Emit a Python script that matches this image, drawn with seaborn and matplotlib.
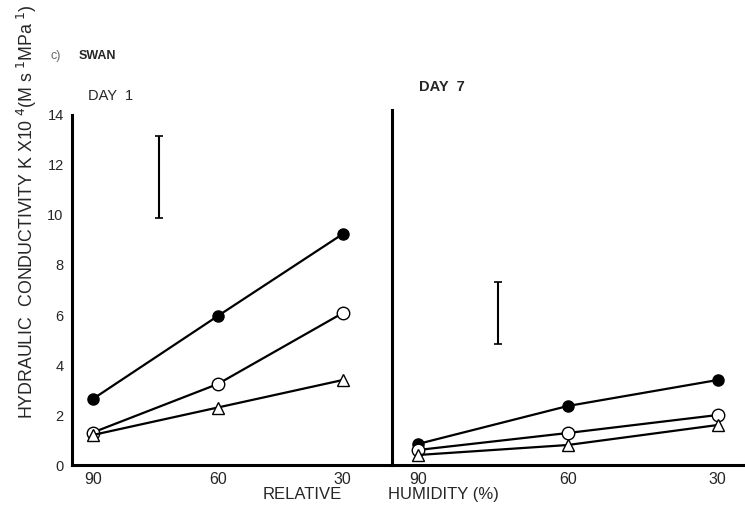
import pandas as pd
import seaborn as sns
import matplotlib.pyplot as plt

humidity = [90, 60, 30]

# Day 1 conductivity values (K x 10^4)
day1_filled = [2.64, 5.96, 9.24]
day1_open = [1.3, 3.24, 6.08]
day1_triangle = [1.2, 2.3, 3.4]

# Day 7 conductivity values
day7_filled = [0.84, 2.36, 3.4]
day7_open = [0.6, 1.28, 2.0]
day7_triangle = [0.4, 0.8, 1.6]

# LSD bars: x position, low, high
day1_bar = [74, 9.88, 13.16]
day7_bar = [74, 4.84, 7.32]

sns.set_style("white")
plt.rcParams['font.family'] = ['Liberation Sans', 'DejaVu Sans']

fig = plt.figure(figsize=(7.45, 5.14), dpi=100)
ax1 = fig.add_axes([0.0966, 0.0953, 0.4295, 0.681])
ax2 = fig.add_axes([0.526, 0.0953, 0.471, 0.69])

styles = {
    'filled': dict(marker='o', markerfacecolor='black', markersize=8),
    'open': dict(marker='o', markerfacecolor='white', markersize=9),
    'triangle': dict(marker='^', markerfacecolor='white', markersize=9),
}

panels = [
    (ax1, {'filled': day1_filled, 'open': day1_open, 'triangle': day1_triangle}, day1_bar, (95.0, 18.2), 14),
    (ax2, {'filled': day7_filled, 'open': day7_open, 'triangle': day7_triangle}, day7_bar, (95.2, 25.0), 14.18),
]

for ax, series, bar, xlim, ytop in panels:
    for name, vals in series.items():
        df = pd.DataFrame({'RH': humidity, 'K': vals})
        sns.lineplot(data=df, x='RH', y='K', ax=ax, color='black', lw=1.6,
                     markeredgecolor='black', markeredgewidth=1.0, **styles[name])
    ax.errorbar(bar[0], (bar[1] + bar[2]) / 2, yerr=(bar[2] - bar[1]) / 2,
                color='black', capsize=3, lw=1.5, capthick=1.2)
    ax.set_xlim(*xlim)
    ax.set_ylim(0, ytop)
    ax.set_xticks(humidity)
    ax.set_xlabel('')
    ax.set_ylabel('')
    for s in ['top', 'right']:
        ax.spines[s].set_visible(False)
    ax.spines['left'].set_linewidth(2.2)
    ax.spines['bottom'].set_linewidth(2.2)
    ax.spines['left'].set_color('black')
    ax.spines['bottom'].set_color('black')
    ax.set_facecolor('none')
    ax.tick_params(axis='x', direction='in', length=4, width=0.6, labelsize=11.5, pad=5)

ax1.set_yticks(range(0, 15, 2))
ax1.tick_params(axis='y', direction='out', length=4, width=1, labelsize=10.5, pad=2)
ax2.set_yticks(range(0, 15, 2))
ax2.tick_params(axis='y', direction='in', length=5, width=1, labelleft=False)

fig.text(0.068, 0.886, 'c)', fontsize=9, color='#666666')
fig.text(0.106, 0.886, 'SWAN', fontsize=9, fontweight='bold')
fig.text(0.118, 0.806, 'DAY  1', fontsize=10.5)
fig.text(0.563, 0.822, 'DAY  7', fontsize=10.5, fontweight='bold')
fig.text(0.036, 0.588, 'HYDRAULIC  CONDUCTIVITY K X10$^{\\ 4}$(M s$^{\\ 1}$MPa$^{\\ 1}$)',
         rotation=90, ha='center', va='center', fontsize=12.8)
fig.text(0.353, 0.03, 'RELATIVE', fontsize=12)
fig.text(0.521, 0.03, 'HUMIDITY (%)', fontsize=12)

fig.savefig('out.png', dpi=100)
